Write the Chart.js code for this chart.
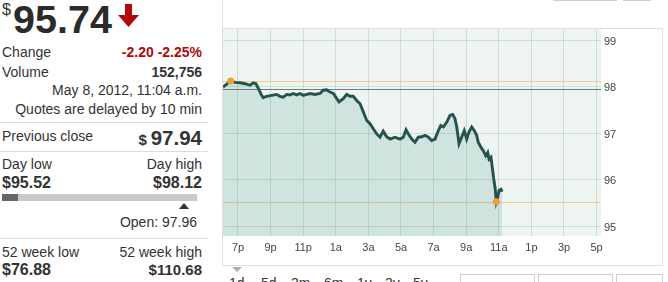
<!DOCTYPE html>
<html><head><meta charset="utf-8">
<script src="https://cdn.jsdelivr.net/npm/chart.js@4/dist/chart.umd.min.js"></script>
<style>
html,body{margin:0;padding:0}
body{width:668px;height:282px;overflow:hidden;background:#fff;font-family:"Liberation Sans",Arial,sans-serif;color:#333;position:relative}
.t{position:absolute;font-size:14px;line-height:16px;white-space:nowrap}
.r{right:466px;text-align:right}
.l{left:2px}
.b{font-weight:bold}
.red{color:#b00a0a}
.sep{position:absolute;left:0;width:208px;height:1px;background:#dcdcdc}
.box{position:absolute;border:1px solid #cfcfcf;box-sizing:border-box;background:#fff}
#frame{position:absolute;left:222px;top:28px;width:441px;height:238px;border:1px solid #dedede;box-sizing:border-box}
#wrap{position:absolute;left:223px;top:29px;width:438px;height:236px}
.rng{position:absolute;top:275px;font-size:14px;line-height:16px;color:#333}
</style></head>
<body>
<!-- left quote panel -->
<div class="t" style="left:2px;top:1px;font-size:16px;line-height:18px">$</div>
<div class="t b" style="left:13px;top:0;font-size:39.5px;line-height:38px;color:#2b2b2b">95.74</div>
<svg style="position:absolute;left:117px;top:4px" width="23" height="24" viewBox="0 0 23 24">
  <polygon points="8,0 15,0 15,11 22,11 11.5,23 1,11 8,11" fill="#b3070b"/>
</svg>
<div class="t l" style="top:44px">Change</div>
<div class="t r b red" style="top:44px">-2.20 -2.25%</div>
<div class="t l" style="top:64px">Volume</div>
<div class="t r b" style="top:64px">152,756</div>
<div class="t r" style="top:82px">May 8, 2012, 11:04 a.m.</div>
<div class="t r" style="top:101px">Quotes are delayed by 10 min</div>
<div class="sep" style="top:122px"></div>
<div class="t l" style="top:128px">Previous close</div>
<div class="t r b" style="top:126px;line-height:24px"><span style="font-size:15px">$</span> <span style="font-size:20.5px">97.94</span></div>
<div class="sep" style="top:151px"></div>
<div class="t l" style="top:156px">Day low</div>
<div class="t r" style="top:156px">Day high</div>
<div class="t l b" style="top:175px;font-size:16px">$95.52</div>
<div class="t r b" style="top:175px;font-size:16px">$98.12</div>
<div style="position:absolute;left:2px;top:194px;width:195px;height:7px;background:#c9c9c9"></div>
<div style="position:absolute;left:2px;top:194px;width:16px;height:7px;background:#666"></div>
<svg style="position:absolute;left:179px;top:203px" width="10" height="6"><polygon points="0,6 10,6 5,0" fill="#333"/></svg>
<div class="t" style="right:471px;text-align:right;top:214px">Open: 97.96</div>
<div class="sep" style="top:238px"></div>
<div class="t l" style="top:244px">52 week low</div>
<div class="t r" style="top:244px">52 week high</div>
<div class="t l b" style="top:262px;font-size:16px">$76.88</div>
<div class="t r b" style="top:262px;font-size:15px">$110.68</div>

<!-- chart frame -->
<div style="position:absolute;left:222px;top:0;width:1px;height:28px;background:#dedede"></div>
<div class="box" style="left:553px;top:-20px;width:64px;height:21px"></div>
<div class="box" style="left:623px;top:-20px;width:28px;height:21px"></div>
<div id="frame"></div>
<div id="wrap"><canvas id="c"></canvas></div>
<svg style="position:absolute;left:232px;top:267px" width="10" height="5"><polygon points="0,0 10,0 5,5" fill="#b0b0b0"/></svg>
<div class="rng" style="left:229px">1d</div>
<div class="rng" style="left:261px">5d</div>
<div class="rng" style="left:291px">3m</div>
<div class="rng" style="left:324px">6m</div>
<div class="rng" style="left:357px">1y</div>
<div class="rng" style="left:385px">3y</div>
<div class="rng" style="left:413px">5y</div>
<div class="box" style="left:460px;top:274px;width:75px;height:20px"></div>
<div class="box" style="left:538px;top:274px;width:75px;height:20px"></div>
<div class="box" style="left:616px;top:274px;width:47px;height:20px"></div>

<script>
// hours since 6 p.m. (May 7) for each sample, and the price at that time
const times = [0.08,0.31,0.55,0.82,1.12,1.43,1.74,1.94,2.10,2.25,2.45,2.55,2.76,3.07,3.37,3.58,3.78,3.99,4.19,4.39,4.60,4.80,5.01,5.22,5.42,5.72,6.03,6.23,6.44,6.64,6.85,7.06,7.20,7.46,7.67,7.87,8.07,8.28,8.49,8.69,8.90,9.10,9.30,9.51,9.71,9.91,10.12,10.33,10.63,10.94,11.14,11.31,11.45,11.66,11.86,12.06,12.27,12.47,12.68,12.88,13.09,13.29,13.44,13.60,13.80,14.01,14.17,14.31,14.42,14.56,14.72,14.88,15.03,15.17,15.34,15.50,15.64,15.74,15.91,16.05,16.20,16.32,16.40,16.52,16.60,16.69,16.77,16.85,16.93,17.01,17.13,17.21];
const prices = [97.99,98.05,98.12,98.09,98.08,98.06,98.03,98.08,98.06,97.96,97.81,97.76,97.79,97.81,97.83,97.79,97.77,97.83,97.82,97.85,97.82,97.85,97.81,97.83,97.85,97.83,97.85,97.92,97.93,97.88,97.85,97.74,97.67,97.74,97.83,97.79,97.79,97.70,97.63,97.45,97.27,97.20,97.09,96.98,96.91,97.04,96.92,96.87,96.91,96.87,96.91,97.07,96.98,96.87,96.80,96.91,96.92,96.95,96.91,96.84,96.87,97.05,97.16,97.13,97.23,97.38,97.40,97.31,97.13,96.77,96.91,97.05,96.87,97.02,97.13,97.05,96.95,96.80,96.69,96.62,96.51,96.58,96.44,96.48,96.26,96.01,95.83,95.52,95.61,95.76,95.79,95.74];
// day high / day low markers
const markerTimes = [0.55, 16.85];
const markerValues = [98.12, 95.52];
// reference levels: day high, previous close, day low
const dayHigh = 98.12, prevClose = 97.94, dayLow = 95.52;
// axis ticks
const xTickHours = [1,3,5,7,9,11,13,15,17,19,21,23];
const xTickLabels = ['7p','9p','11p','1a','3a','5a','7a','9a','11a','1p','3p','5p'];
const yTicks = [95,96,97,98,99];

const priceData = times.map((t,i)=>({x:t,y:prices[i]}));
const markerData = markerTimes.map((t,i)=>({x:t,y:markerValues[i]}));

const bgPlugin = {
  id:'bgRefs',
  beforeDraw(chart){
    const {ctx, chartArea:a} = chart;
    ctx.save();
    ctx.fillStyle = '#eef4f0';
    ctx.fillRect(a.left, a.top, a.right-a.left, a.bottom-a.top);
    ctx.restore();
  },
  beforeDatasetsDraw(chart){
    const {ctx, chartArea:a, scales:{y}} = chart;
    const lines = [[dayHigh,'#f2c79a'],[prevClose,'#6f7c79'],[dayLow,'#f2c79a']];
    ctx.save();
    ctx.lineWidth = 1;
    lines.forEach(([v,c])=>{
      const py = Math.round(y.getPixelForValue(v))+0.5;
      ctx.strokeStyle = c;
      ctx.beginPath(); ctx.moveTo(a.left, py); ctx.lineTo(a.right, py); ctx.stroke();
    });
    ctx.restore();
  }
};

new Chart(document.getElementById('c'), {
  type:'line',
  data:{datasets:[
    {data:markerData, showLine:false, pointRadius:3.5, pointHoverRadius:3.5, pointBackgroundColor:'#f0a035', pointBorderColor:'#f0a035', pointBorderWidth:0, order:0, clip:false},
    {data:priceData, borderColor:'#24524e', borderWidth:2.9, pointRadius:0, pointHoverRadius:0, pointBorderWidth:0, tension:0, fill:'start', backgroundColor:'rgba(40,140,125,0.15)', order:1}
  ]},
  options:{
    responsive:true, maintainAspectRatio:false, animation:false,
    layout:{padding:0, autoPadding:false},
    plugins:{legend:{display:false}, tooltip:{enabled:false}},
    scales:{
      x:{type:'linear', min:0.08, max:23.27,
        afterBuildTicks(s){ s.ticks = xTickHours.map(v=>({value:v})); },
        afterFit(s){ s.height = 29; s.paddingLeft = 0; s.paddingRight = 0; },
        ticks:{callback:(v)=>xTickLabels[xTickHours.indexOf(v)], color:'#444', font:{family:'"Liberation Sans", Arial', size:11}, padding:5, maxRotation:0, autoSkip:false},
        grid:{color:'rgba(130,160,152,0.28)', drawTicks:false, lineWidth:1},
        border:{display:false}
      },
      y:{type:'linear', position:'right', min:94.785, max:99.237,
        afterBuildTicks(s){ s.ticks = yTicks.map(v=>({value:v})); },
        afterFit(s){ s.width = 60; s.paddingTop = 0; s.paddingBottom = 0; },
        ticks:{color:'#444', font:{family:'"Liberation Sans", Arial', size:11}, padding:3, labelOffset:1.5},
        grid:{color:'rgba(130,160,152,0.28)', drawTicks:false, lineWidth:1},
        border:{display:false}
      }
    }
  },
  plugins:[bgPlugin]
});
</script>
</body></html>
